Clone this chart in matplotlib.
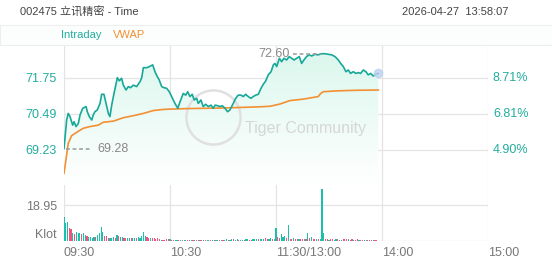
import numpy as np
import matplotlib
matplotlib.use("Agg")
import matplotlib.pyplot as plt
from matplotlib.patches import Rectangle

plt.rcParams['font.family'] = ['Liberation Sans', 'Noto Sans CJK SC', 'DejaVu Sans']

# minutes since 09:30 (lunch break removed), price
price_min = [0, 1.5, 2.4, 3.4, 4.9, 5.7, 6.8, 8.1, 9.1, 10.6, 12.5, 13.2, 14.3, 15.7, 16.6, 17.5,
             18.8, 20.4, 21.3, 22.6, 23.8, 25.1, 26.0, 27.0, 28.3, 30.2, 31.3, 32.6, 33.6, 35.1,
             36.4, 37.7, 39.2, 41.1, 43.0, 44.0, 44.9, 46.8, 48.7, 50.2, 51.5, 52.8, 53.9, 55.3,
             56.6, 58.1, 59.6, 60.9, 62.8, 64.4, 65.7, 67.5, 68.9, 70.0, 71.3, 72.6, 73.7, 75.1,
             76.0, 77.5, 78.8, 80.2, 81.7, 83.2, 84.5, 85.5, 87.0, 88.3, 89.6, 91.1, 92.6, 93.9,
             94.9, 95.8, 97.2, 98.6, 100.2, 101.5, 102.8, 104.3, 105.8, 107.1, 108.5, 110.0,
             111.5, 112.8, 114.2, 115.6, 117.2, 118.5, 119.4, 120.4, 121.9, 123.2, 124.5, 126.0,
             127.5, 128.8, 130.2, 131.7, 133.2, 134.5, 135.8, 137.3, 138.8, 140.2, 142.0, 143.9,
             145.8, 147.7, 149.6, 151.5, 153.4, 155.3, 156.6, 158.1, 159.6, 160.9, 162.2, 163.7,
             165.3, 166.6, 167.9, 169.4, 170.9, 172.2, 173.6, 175.0, 176.6, 177.9]
price = [69.28, 70.28, 70.51, 70.40, 70.10, 70.22, 70.05, 70.16, 70.46, 70.69, 70.75, 70.57, 70.40,
         70.28, 70.46, 70.57, 70.63, 70.86, 71.18, 71.18, 70.86, 70.51, 70.40, 70.80, 71.21, 71.76,
         71.65, 71.74, 71.50, 71.33, 71.45, 71.41, 71.50, 71.45, 71.62, 71.76, 72.11, 72.11, 72.16,
         72.21, 71.97, 71.80, 71.68, 71.45, 71.41, 71.39, 71.27, 71.10, 70.86, 70.69, 70.92, 71.21,
         71.15, 71.27, 71.10, 71.18, 70.98, 71.04, 70.86, 70.98, 70.75, 70.83, 70.75, 70.80, 70.69,
         70.80, 70.78, 70.75, 70.78, 70.69, 70.57, 70.63, 70.75, 70.86, 71.04, 71.15, 71.15, 71.10,
         71.18, 71.10, 71.04, 71.10, 71.15, 71.18, 71.39, 71.53, 71.65, 71.86, 71.97, 72.21, 72.26,
         72.15, 72.44, 72.32, 72.44, 72.38, 72.50, 72.44, 72.38, 72.44, 72.50, 72.26, 72.38, 72.50,
         72.56, 72.52, 72.58, 72.56, 72.60, 72.60, 72.58, 72.56, 72.50, 72.38, 72.26, 72.15, 71.97,
         72.03, 71.91, 71.97, 71.91, 71.94, 71.91, 72.03, 71.97, 71.86, 71.91, 71.82, 71.89, 71.91]

vwap_min = [0, 1.5, 2.4, 4.3, 7.2, 10.9, 14.7, 19.4, 22.2, 27.9, 33.6, 39.2, 44.9, 50.5, 56.2,
            59.6, 70, 90, 110, 116.6, 122.3, 127.9, 135.4, 143.9, 145.3, 146.8, 154.3, 165.6, 177.9]
vwap = [68.41, 69.06, 69.46, 69.73, 69.85, 69.99, 70.05, 70.10, 70.20, 70.24, 70.36, 70.43, 70.51,
        70.61, 70.65, 70.66, 70.68, 70.70, 70.74, 70.76, 70.84, 70.96, 71.01, 71.10, 71.21, 71.27,
        71.30, 71.32, 71.33]

# per-minute volume (Klot), u = up bar, d = down bar
volume = [12.5, 9.6, 10.2, 6.7, 6.3, 4.2, 3.8, 4.5, 4.0, 4.3, 3.6, 4.2, 2.9, 2.6, 2.3, 2.0, 1.8, 2.0, 2.3, 3.0,
          4.0, 7.2, 5.0, 2.4, 2.8, 1.8, 1.5, 1.6, 2.0, 1.5, 3.2, 2.5, 2.0, 2.2, 1.6, 1.5, 1.4, 1.5, 1.4, 1.6,
          1.8, 1.5, 2.0, 1.6, 2.4, 4.8, 2.6, 2.0, 1.8, 1.5, 1.6, 1.5, 1.3, 1.4, 1.2, 0.6, 0.5, 0.7, 0.8, 0.9,
          1.0, 0.6, 0.5, 0.7, 0.5, 0.4, 0.6, 0.5, 0.7, 0.5, 0.4, 0.5, 0.6, 0.4, 0.5, 0.7, 0.5, 0.4, 0.6, 0.5,
          0.5, 0.6, 0.4, 0.5, 0.7, 0.5, 0.4, 0.6, 0.5, 0.4, 0.5, 0.6, 0.8, 0.5, 0.7, 0.9, 1.0, 0.6, 0.8, 0.7,
          0.6, 0.7, 0.5, 0.8, 0.9, 0.6, 0.7, 1.0, 1.2, 0.8, 1.0, 0.9, 1.3, 1.1, 1.4, 1.2, 1.0, 1.6, 1.2, 1.0,
          7.0, 2.2, 1.5, 3.5, 2.0, 2.8, 1.5, 8.4, 1.2, 1.0, 1.4, 1.1, 0.9, 1.0, 0.8, 0.9, 1.0, 1.2, 4.0, 1.5,
          2.3, 1.2, 1.0, 0.9, 0.8, 1.0, 27.4, 4.0, 0.9, 0.8, 0.7, 0.9, 0.8, 0.7, 0.9, 0.8, 0.6, 0.7, 0.8, 0.9,
          1.0, 0.8, 0.7, 0.9, 0.6, 0.7, 0.8, 0.6, 0.7, 0.5, 0.6, 0.7, 0.6, 0.5, 0.6, 0.7, 0.5, 0.6]
direction = ("uuudduduuuduuduuuudu" "uuuddduuududuudduudu"
             "uduuuuuddudddddudddd" "udduududuuddudududdu"
             "duududuududuuduuduud" "uuduudduuuduuudduudu"
             "udduuududdudduddudud" "udduduuuddudduuddudd"
             "dudduddudduudddudd")

price_ticks = [69.23, 70.49, 71.75]
pct_labels = ["4.90%", "6.81%", "8.71%"]
time_ticks = [0, 60, 120, 180, 240]
time_labels = ["09:30", "10:30", "11:30/13:00", "14:00", "15:00"]
vol_tick = 18.95
high_price, high_min = 72.60, 146.5
low_price, low_min = 69.28, 0

TEAL = "#18a898"
TEAL_TXT = "#22ad9e"
ORANGE = "#f39033"
UP = "#1cc0aa"
DOWN = "#f2557c"
GRID = "#e4e4e4"
GREY = "#777777"

W, H = 552, 265
fig = plt.figure(figsize=(W / 100, H / 100), dpi=100)
fig.patch.set_facecolor("white")

# header
fig.text(20 / W, 1 - 12 / H, "002475 立讯精密 - Time", fontsize=8, color="#444444", va="center")
fig.text(508 / W, 1 - 12 / H, "2026-04-27  13:58:07", fontsize=8, color="#444444", va="center", ha="right")
fig.patches.append(Rectangle((0, 1 - 44.5 / H), 1, 19.5 / H, transform=fig.transFigure,
                             facecolor="#fcfdfd", edgecolor="#eeeeee", lw=0.8))
fig.text(61 / W, 1 - 35 / H, "Intraday", fontsize=8, color=TEAL_TXT, va="center")
fig.text(113 / W, 1 - 35 / H, "VWAP", fontsize=8, color=ORANGE, va="center")

ax = fig.add_axes([64 / W, (H - 185) / H, 424 / W, 140 / H])
axv = fig.add_axes([64 / W, (H - 241) / H, 424 / W, 56 / H])

ylo, yhi = 68.005, 72.905
ax.set_xlim(0, 240)
ax.set_ylim(ylo, yhi)
for a in (ax, axv):
    for s in a.spines.values():
        s.set_visible(False)
    a.set_xticks(time_ticks)
    a.grid(True, color=GRID, lw=0.9)
    a.set_axisbelow(True)
    a.tick_params(length=0)

ax.set_yticks(price_ticks, [f"{p:.2f}" for p in price_ticks])
ax.tick_params(axis="y", colors=TEAL_TXT, labelsize=9, pad=5)
ax.set_xticklabels([])
for p, lab in zip(price_ticks, pct_labels):
    ax.text(1 + 5 / 424, p, lab, transform=ax.get_yaxis_transform(), color=TEAL_TXT,
            fontsize=9, va="center", ha="left")

# gradient fill under the price line
fill = ax.fill_between(price_min, price, ylo, color="none", lw=0)
grad = np.linspace(0, 1, 256).reshape(-1, 1)
top = np.array([0.86, 0.97, 0.93])
img = np.ones((256, 1, 4))
img[:, 0, :3] = 1 - (1 - top) * grad
im = ax.imshow(img, extent=(0, 240, ylo, max(price)), origin="lower", aspect="auto", zorder=1)
im.set_clip_path(fill.get_paths()[0], transform=ax.transData)
ax.set_ylim(ylo, yhi)

# watermark
ax.plot([0.351], [0.486], marker="o", markersize=39, markerfacecolor="none",
        markeredgecolor="#e0e0e0", markeredgewidth=1.8, transform=ax.transAxes, zorder=2)
ax.text(0.427, 0.407, "Tiger Community", transform=ax.transAxes, fontsize=11.5,
        color="#d6d6d6", va="center", ha="left", zorder=2)

ax.plot(vwap_min, vwap, color=ORANGE, lw=1.2, zorder=3)
ax.plot(price_min, price, color=TEAL, lw=1.2, zorder=4)
ax.plot(price_min[-1], price[-1], "o", color="#bcd2f2", markersize=6, alpha=0.8, zorder=5)

# high / low markers
ax.plot([high_min - 17, high_min - 1], [high_price] * 2, color="#9a9a9a", lw=1.1,
        dashes=(2.5, 1.8), zorder=5)
ax.text(high_min - 19, high_price, f"{high_price:.2f}", color="#888888", fontsize=9,
        ha="right", va="center", zorder=5)
ax.plot([low_min + 1, low_min + 16], [low_price] * 2, color="#9a9a9a", lw=1.1,
        dashes=(2.5, 1.8), zorder=5)
ax.text(low_min + 19, low_price, f"{low_price:.2f}", color="#888888", fontsize=9,
        ha="left", va="center", zorder=5)

# volume
axv.set_xlim(0, 240)
axv.set_ylim(0, 29.48)
mins = np.arange(len(volume))
cols = [UP if d == "u" else DOWN for d, _ in zip(direction, volume)]
cols += [UP] * (len(volume) - len(cols))
axv.bar(mins, volume, width=0.65, color=cols, zorder=3)
axv.set_yticks([0, vol_tick], ["", f"{vol_tick:.2f}"])
axv.tick_params(axis="y", colors=GREY, labelsize=9, pad=5)
axv.annotate("Klot", xy=(0, 0), xycoords=("axes fraction", "data"), xytext=(-7, 0),
             textcoords="offset pixels", ha="right", va="bottom", color=GREY, fontsize=9)
axv.set_xticklabels(time_labels)
axv.tick_params(axis="x", colors=GREY, labelsize=9, pad=4)
for t in axv.get_xticklabels():
    t.set_horizontalalignment("left")

fig.savefig("out.png", dpi=100)
